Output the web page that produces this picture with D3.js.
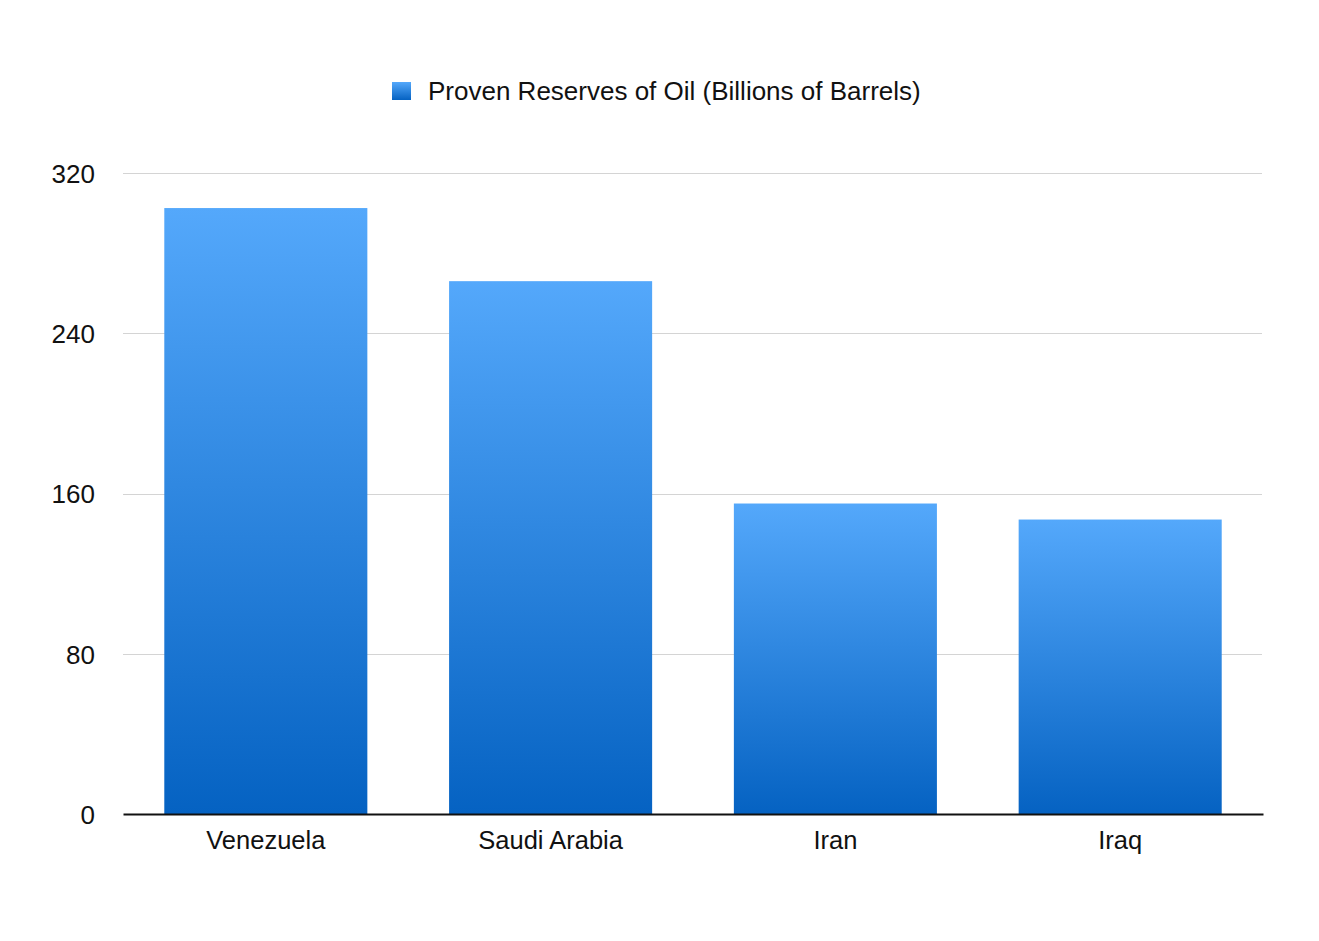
<!DOCTYPE html>
<html>
<head>
<meta charset="utf-8">
<script src="https://cdn.jsdelivr.net/npm/d3@7"></script>
<style>
  html, body { margin: 0; padding: 0; background: #fff; }
  svg { display: block; }
  text { font-family: Helvetica, Arial, "Liberation Sans", sans-serif; fill: #111; }
</style>
</head>
<body>
<svg id="chart" width="1319" height="941"></svg>
<script>
const categories = ["Venezuela", "Saudi Arabia", "Iran", "Iraq"];
const values = [302.5, 266, 155, 147];
const yTicks = [0, 80, 160, 240, 320];
const seriesName = "Proven Reserves of Oil (Billions of Barrels)";

const svg = d3.select("#chart");
const margin = { left: 123, right: 1263, top: 173, bottom: 814 };

const x = d3.scaleBand()
  .domain(categories)
  .range([margin.left, margin.right])
  .paddingInner(0.287)
  .paddingOuter(0.145);

const y = d3.scaleLinear()
  .domain([0, 320])
  .range([margin.bottom, margin.top]);

const defs = svg.append("defs");
const grad = defs.append("linearGradient")
  .attr("id", "barGrad")
  .attr("x1", 0).attr("y1", 0).attr("x2", 0).attr("y2", 1);
grad.append("stop").attr("offset", "0%").attr("stop-color", "#54a8fb");
grad.append("stop").attr("offset", "100%").attr("stop-color", "#0562c2");

// gridlines
svg.append("g")
  .selectAll("line")
  .data(yTicks.filter(d => d > 0))
  .join("line")
  .attr("x1", margin.left)
  .attr("x2", margin.right - 1)
  .attr("y1", d => Math.round(y(d)) + 0.5)
  .attr("y2", d => Math.round(y(d)) + 0.5)
  .attr("stroke", "#d4d4d4")
  .attr("stroke-width", 1);

// bars
svg.append("g")
  .selectAll("rect")
  .data(categories.map((c, i) => ({ c, v: values[i] })))
  .join("rect")
  .attr("x", d => x(d.c))
  .attr("width", x.bandwidth())
  .attr("y", d => y(d.v))
  .attr("height", d => y(0) - y(d.v))
  .attr("fill", "url(#barGrad)");

// y axis labels
const yAxis = d3.axisLeft(y).tickValues(yTicks).tickSize(0).tickPadding(0).tickFormat(d3.format("d"));
const gy = svg.append("g").attr("transform", `translate(95,0)`).call(yAxis);
gy.select(".domain").remove();
gy.selectAll("text")
  .attr("font-size", "26px")
  .attr("fill", "#111")
  .attr("dy", "0.36em")
  .style("font-family", 'Helvetica, Arial, "Liberation Sans", sans-serif');

// x axis
const xAxis = d3.axisBottom(x).tickSize(0).tickPadding(0);
const gx = svg.append("g").attr("transform", `translate(0,${margin.bottom})`).call(xAxis);
gx.select(".domain")
  .attr("stroke", "#111")
  .attr("stroke-width", 2);
gx.selectAll("text")
  .attr("font-size", "25.5px")
  .attr("fill", "#111")
  .attr("y", 35)
  .attr("dy", 0)
  .style("font-family", 'Helvetica, Arial, "Liberation Sans", sans-serif');

// legend
const legend = svg.append("g");
legend.append("rect")
  .attr("x", 392).attr("y", 82)
  .attr("width", 19).attr("height", 18)
  .attr("fill", "url(#barGrad)");
legend.append("text")
  .attr("x", 428).attr("y", 100)
  .attr("font-size", "26px")
  .text(seriesName);
</script>
</body>
</html>
